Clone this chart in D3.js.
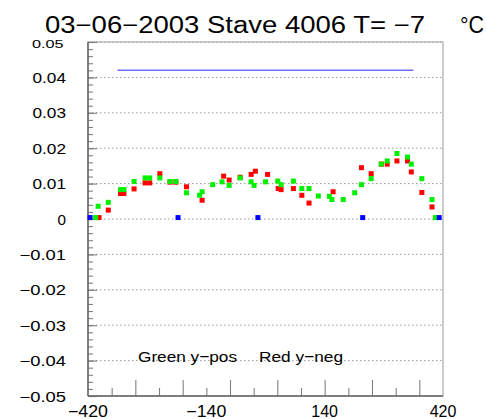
<!DOCTYPE html>
<html><head><meta charset="utf-8">
<script src="https://cdn.jsdelivr.net/npm/d3@7"></script>
<style>body{margin:0;background:#fff}svg{display:block}</style>
</head><body>
<svg id="c" width="486" height="419"></svg>
<script>
const titleText = "03\u221206\u22122003 Stave 4006 T= \u22127";
const unitText = "\u00b0C";
const legendTexts = ["Green y\u2212pos", "Red y\u2212neg"];

const greenX = [-402,-396,-372,-343,-335,-311,-285,-274,-250,-226,-212,-187,-156,-150,-125,-103,-86,-60,-34,-27,0,29,37,66,86,103,125,151,157,184,211,227,250,274,288,311,336,345,370,394,402];
const greenY = [0.0004,0.0036,0.0047,0.0083,0.0083,0.0106,0.0116,0.0116,0.0116,0.0106,0.0106,0.0074,0.0067,0.0077,0.0097,0.0105,0.0095,0.0116,0.0105,0.0095,0.0105,0.0107,0.0097,0.0107,0.0086,0.0086,0.0065,0.0064,0.0055,0.0055,0.0074,0.0097,0.0114,0.0155,0.0164,0.0185,0.0175,0.0155,0.0114,0.0055,0.0004];

const redX = [-394,-372,-343,-335,-311,-285,-274,-250,-226,-212,-187,-150,-99,-86,-60,-34,-24,5,30,37,66,86,103,160,227,250,274,288,311,336,345,370,394];
const redY = [0.0004,0.0025,0.0072,0.0072,0.0085,0.0102,0.0102,0.0128,0.0104,0.0104,0.0091,0.0053,0.0121,0.0110,0.0118,0.0126,0.0135,0.0126,0.0086,0.0083,0.0086,0.0067,0.0045,0.0077,0.0145,0.0128,0.0155,0.0155,0.0164,0.0164,0.0133,0.0075,0.0034];

const blueX = [-415,-207,-18,230,411];
const blueY = [0.0004,0.0004,0.0004,0.0004,0.0004];

const refLineX = [-350, 350];
const refLineY = [0.042, 0.042];

const yTickValues = [0.05,0.04,0.03,0.02,0.01,0,-0.01,-0.02,-0.03,-0.04,-0.05];
const yTickLabels = ["0.05","0.04","0.03","0.02","0.01","0","\u22120.01","\u22120.02","\u22120.03","\u22120.04","\u22120.05"];
const xLabelValues = [-420,-140,140,420];
const xLabelTexts = ["\u2212420","\u2212140","140","420"];
const xLongTicks = [-308,-196,-84,28,140,252,364];
const xShortTicks = [-364,-252,-140,-28,84,196,308];

const svg = d3.select("#c");
svg.append("rect").attr("width",486).attr("height",419).attr("fill","#fff");

const x = d3.scaleLinear().domain([-420,420]).range([88,443]);
const y = d3.scaleLinear().domain([-0.05,0.05]).range([396,42]);
const font = "'Liberation Sans', Arial, Helvetica, sans-serif";

// gridlines
svg.append("g").selectAll("line").data(yTickValues).join("line")
  .attr("x1",x(-420)).attr("x2",x(420))
  .attr("y1",d=>y(d)).attr("y2",d=>y(d))
  .attr("stroke","#9a9a9a").attr("stroke-width",1)
  .attr("stroke-dasharray","1.5,2.5");

// frame
svg.append("rect").attr("x",x(-420)).attr("y",y(0.05))
  .attr("width",x(420)-x(-420)).attr("height",y(-0.05)-y(0.05))
  .attr("fill","none").attr("stroke","#aaaaaa").attr("stroke-width",1.2);

// y ticks
const yMinor = d3.range(-0.05,0.0501,0.002);
const gYm = svg.append("g").attr("transform",`translate(${x(-420)},0)`)
  .call(d3.axisRight(y).tickValues(yMinor).tickSize(5).tickFormat(""));
const gYM = svg.append("g").attr("transform",`translate(${x(-420)},0)`)
  .call(d3.axisRight(y).tickValues(yTickValues).tickSize(9).tickFormat(""));
[gYm,gYM].forEach(g=>{g.select(".domain").remove(); g.selectAll("line").attr("stroke","#808080").attr("stroke-width",1.1);});

// x ticks
const gXs = svg.append("g").attr("transform",`translate(0,${y(-0.05)})`)
  .call(d3.axisTop(x).tickValues(xShortTicks).tickSize(8).tickFormat(""));
const gXl = svg.append("g").attr("transform",`translate(0,${y(-0.05)})`)
  .call(d3.axisTop(x).tickValues(xLongTicks).tickSize(16).tickFormat(""));
[gXs,gXl].forEach(g=>{g.select(".domain").remove(); g.selectAll("line").attr("stroke","#808080").attr("stroke-width",1.1);});

// axis lines
svg.append("line").attr("x1",x(-420)).attr("x2",x(-420)).attr("y1",y(0.05)).attr("y2",y(-0.05))
  .attr("stroke","#666").attr("stroke-width",1.5);
svg.append("line").attr("x1",x(-420)).attr("x2",x(420)).attr("y1",y(-0.05)).attr("y2",y(-0.05))
  .attr("stroke","#666").attr("stroke-width",1.5);

// y labels
yTickValues.forEach((v,i)=>{
  const t = svg.append("text").text(yTickLabels[i])
    .attr("font-family",font).attr("fill","#000").attr("text-anchor","end");
  if (i===0) {
    t.attr("x",63.5).attr("y",y(v)+6).attr("font-size",11.5)
     .attr("textLength",31.5).attr("lengthAdjust","spacingAndGlyphs");
  } else {
    const neg = yTickLabels[i].startsWith("\u2212");
    const len = yTickLabels[i]==="0" ? 8.5 : (neg ? 46.5 : 33.5);
    t.attr("x",66).attr("y",y(v)+5.5).attr("font-size",14.5)
     .attr("textLength",len).attr("lengthAdjust","spacingAndGlyphs");
  }
});

// x labels
xLabelValues.forEach((v,i)=>{
  const neg = xLabelTexts[i].startsWith("\u2212");
  svg.append("text").text(xLabelTexts[i])
    .attr("x",x(v)).attr("y",416.5).attr("text-anchor","middle")
    .attr("font-family",font).attr("font-size",16).attr("fill","#000")
    .attr("textLength",neg?40:26.7).attr("lengthAdjust","spacingAndGlyphs");
});

// reference line
svg.append("line")
  .attr("x1",x(refLineX[0])).attr("x2",x(refLineX[1]))
  .attr("y1",y(refLineY[0])).attr("y2",y(refLineY[1]))
  .attr("stroke","#6f6fff").attr("stroke-width",1.6);

// markers
const ms = 5;
function drawPts(xs, ys, color){
  svg.append("g").selectAll("rect").data(xs.map((d,i)=>[d,ys[i]])).join("rect")
    .attr("x",d=>x(d[0])-ms/2).attr("y",d=>y(d[1])-ms/2)
    .attr("width",ms).attr("height",ms).attr("fill",color);
}
drawPts(redX, redY, "#ff0000");
drawPts(greenX, greenY, "#00f000");
drawPts(blueX, blueY, "#0000ff");

// legend texts
svg.append("text").text(legendTexts[0]).attr("x",138).attr("y",361.5)
  .attr("font-family",font).attr("font-size",15.5).attr("fill","#000")
  .attr("textLength",99).attr("lengthAdjust","spacingAndGlyphs");
svg.append("text").text(legendTexts[1]).attr("x",259).attr("y",361.5)
  .attr("font-family",font).attr("font-size",15.5).attr("fill","#000")
  .attr("textLength",84).attr("lengthAdjust","spacingAndGlyphs");

// title
svg.append("text").text(titleText).attr("x",45).attr("y",33)
  .attr("font-family",font).attr("font-size",23).attr("fill","#000")
  .attr("textLength",380).attr("lengthAdjust","spacingAndGlyphs");
svg.append("text").text(unitText).attr("x",460).attr("y",33)
  .attr("font-family",font).attr("font-size",24).attr("fill","#000")
  .attr("textLength",24).attr("lengthAdjust","spacingAndGlyphs");
</script>
</body></html>
